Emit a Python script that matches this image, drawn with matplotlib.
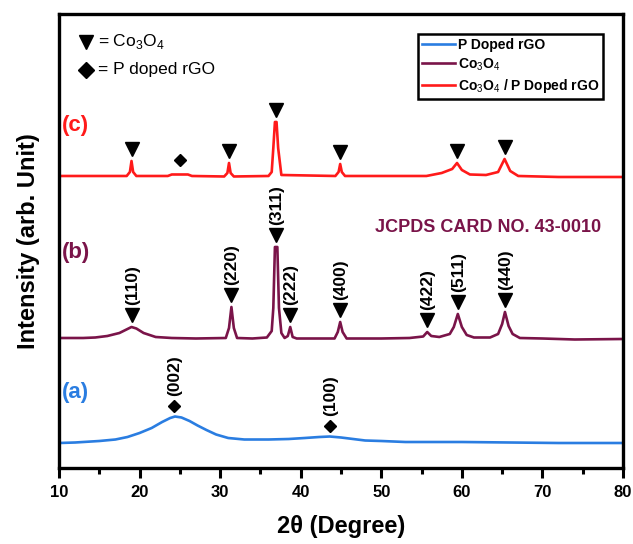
import matplotlib
matplotlib.use("Agg")
import matplotlib.pyplot as plt
from matplotlib.ticker import MultipleLocator

plt.rcParams['font.family'] = ['Liberation Sans', 'DejaVu Sans']
plt.rcParams['mathtext.fontset'] = 'custom'
plt.rcParams['mathtext.rm'] = 'Liberation Sans'
plt.rcParams['mathtext.bf'] = 'Liberation Sans:bold'

BLUE = '#2a7de1'
PURPLE = '#7a1449'
RED = '#ff1a1a'

# (a) P doped rGO
rgo_x = [10, 12, 15, 17, 18.5, 20, 21.5, 22.8, 23.8, 24.4, 25.2, 26.2, 27.2, 28.3,
         29.5, 31, 33, 36, 38.5, 40.5, 42.3, 43.6, 45, 46.5, 48, 50, 53, 56, 60,
         66, 72, 80]
rgo_y = [25, 25.5, 27, 28.5, 31, 35, 40, 46, 50, 51.5, 50.5, 47, 42.5, 38,
         33.5, 30, 28.5, 28.5, 29, 30, 31, 31.5, 30.5, 29, 27.5, 27, 26, 26, 26,
         25.5, 25, 25]

# (b) Co3O4
co_x = [10, 13, 14.5, 16, 17.5, 18.5, 19, 19.6, 20.5, 22, 24, 27, 30.7, 31.1, 31.4,
        31.7, 32.1, 34, 35.8, 36.4, 36.6, 36.8, 37.1, 37.3, 37.6, 38.0, 38.4, 38.7,
        39.0, 39.5, 42, 44.2, 44.6, 44.9, 45.2, 45.7, 50, 53.5, 55.2, 55.7, 56.2,
        57.2, 58.5, 59.0, 59.5, 60.0, 60.6, 61.5, 63.5, 64.5, 65.0, 65.35, 65.8,
        66.3, 67.2, 70, 74, 80]
co_y = [130, 130, 130.5, 132, 135, 139, 141, 139.5, 135, 131, 130, 129.5, 130, 140, 161,
        140, 130, 129.5, 130.5, 137, 160, 221, 221, 160, 135, 130, 132, 141,
        131, 129.5, 129.5, 129.5, 136, 146, 136, 129.5, 129.5, 130, 131.5, 136, 132,
        131, 134, 141, 154, 141, 133, 130.5, 130.5, 134, 144, 156, 142,
        134, 130, 129.5, 128.5, 129]

# (c) Co3O4 / P doped rGO
comp_x = [10, 18.4, 18.8, 19.0, 19.2, 19.6, 23.5, 24, 26, 26.5, 30.5, 30.9, 31.1,
          31.3, 31.7, 36.0, 36.4, 36.6, 36.8, 37.0, 37.2, 37.6, 44.3, 44.7, 44.9,
          45.1, 45.5, 55.6, 57.5, 58.8, 59.4, 60.0, 61.0, 63.0, 64.5, 65.3, 66.0,
          67.0, 72, 80]
comp_y = [292, 292, 296, 307, 296, 292, 292, 293.5, 293.5, 292, 291.5, 295, 305,
          295, 291.5, 292, 296, 320, 346, 346, 320, 293, 292, 296, 304,
          296, 292, 292, 295, 299, 305, 298, 293.5, 293, 296, 309, 297,
          292, 291, 291]

# Peak markers
comp_tri_x = [19.0, 31.1, 36.9, 44.9, 59.4, 65.3]
comp_tri_y = [307, 305, 346, 304, 305, 309]
comp_dia_x = [25.0]
comp_dia_y = [293.5]

co_peak_x = [19.0, 31.4, 36.9, 38.7, 44.9, 55.7, 59.5, 65.35]
co_peak_y = [141, 161, 221, 141, 146, 136, 154, 156]
co_hkl = ['(110)', '(220)', '(311)', '(222)', '(400)', '(422)', '(511)', '(440)']

rgo_peak_x = [24.3, 43.6]
rgo_peak_y = [51.5, 31.5]
rgo_hkl = ['(002)', '(100)']

fig = plt.figure(figsize=(6.33, 5.44), dpi=100)
ax = fig.add_axes([0.0932, 0.1397, 0.891, 0.8346])

l1, = ax.plot(rgo_x, rgo_y, color=BLUE, lw=1.9, label='P Doped rGO')
l2, = ax.plot(co_x, co_y, color=PURPLE, lw=1.9, label='Co$_3$O$_4$')
l3, = ax.plot(comp_x, comp_y, color=RED, lw=1.9, label='Co$_3$O$_4$ / P Doped rGO')

ms_tri = 9.5
ms_dia = 6.5
ax.plot(comp_tri_x, [y + 12 for y in comp_tri_y], 'v', color='black', ms=ms_tri)
ax.plot(comp_dia_x, [y + 14 for y in comp_dia_y], 'D', color='black', ms=ms_dia)

ax.plot(co_peak_x, [y + 12 for y in co_peak_y], 'v', color='black', ms=ms_tri)
for x, y, t in zip(co_peak_x, co_peak_y, co_hkl):
    ax.annotate(t, (x, y + 12), xytext=(0.5, 7), textcoords='offset points',
                rotation=90, ha='center', va='bottom', fontsize=12.5,
                fontweight='bold')

ax.plot(rgo_peak_x, [y + 11 for y in rgo_peak_y], 'D', color='black', ms=ms_dia)
for x, y, t in zip(rgo_peak_x, rgo_peak_y, rgo_hkl):
    ax.annotate(t, (x, y + 11), xytext=(0.5, 7), textcoords='offset points',
                rotation=90, ha='center', va='bottom', fontsize=12.5,
                fontweight='bold')

# Curve labels
ax.text(12.1, 342, '(c)', color=RED, fontsize=16, fontweight='bold', ha='center', va='center')
ax.text(12.1, 215, '(b)', color=PURPLE, fontsize=16, fontweight='bold', ha='center', va='center')
ax.text(12.1, 75, '(a)', color=BLUE, fontsize=16, fontweight='bold', ha='center', va='center')
ax.text(63.2, 240, 'JCPDS CARD NO. 43-0010', color=PURPLE, fontsize=13,
        fontweight='bold', ha='center', va='center')

# Symbol key
ax.plot([13.35], [426], 'v', color='black', ms=10.5)
ax.text(14.9, 426, '= Co$_3$O$_4$', fontsize=12.5, ha='left', va='center')
ax.plot([13.35], [398], 'D', color='black', ms=8)
ax.text(14.9, 398, '= P doped rGO', fontsize=12.5, ha='left', va='center')

leg = ax.legend(handles=[l1, l2, l3], loc='upper right',
                bbox_to_anchor=(0.9645, 0.956), borderaxespad=0,
                fancybox=False, edgecolor='black', framealpha=1,
                handlelength=2.4, handletextpad=0.15, labelspacing=0.3,
                borderpad=0.3, prop={'size': 10, 'weight': 'bold'})
leg.get_frame().set_linewidth(1.8)

ax.set_xlim(10, 80)
ax.set_ylim(0, 454)
ax.xaxis.set_major_locator(MultipleLocator(10))
ax.xaxis.set_minor_locator(MultipleLocator(5))
ax.set_yticks([])
ax.tick_params(axis='x', which='major', direction='out', length=7, width=2.2,
               labelsize=12, pad=5)
ax.tick_params(axis='x', which='minor', direction='out', length=4, width=2.2)
for lab in ax.get_xticklabels():
    lab.set_fontweight('bold')
for s in ax.spines.values():
    s.set_linewidth(2.4)

ax.set_xlabel('2θ (Degree)', fontsize=17, fontweight='bold', labelpad=11)
ax.set_ylabel('Intensity (arb. Unit)', fontsize=17, fontweight='bold', labelpad=14)

fig.savefig('out.png', dpi=100)
